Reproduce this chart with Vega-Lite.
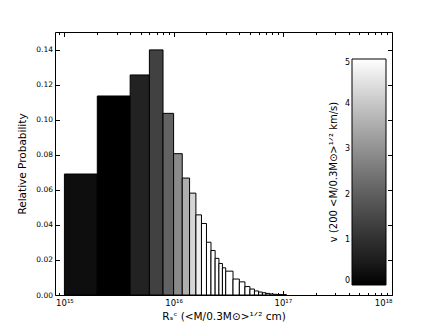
{
  "$schema": "https://vega.github.io/schema/vega-lite/v6.json",
  "width": 337,
  "height": 263,
  "autosize": "none",
  "padding": {"left": 55, "top": 32, "right": 44, "bottom": 34},
  "background": "white",
  "data": {
    "values": [
      {"x0": 1e15, "x1": 2e15, "p": 0.069, "v": 0.2},
      {"x0": 2e15, "x1": 4e15, "p": 0.1135, "v": 0},
      {"x0": 4e15, "x1": 6e15, "p": 0.1255, "v": 0.67},
      {"x0": 6e15, "x1": 8e15, "p": 0.1398, "v": 1.37},
      {"x0": 8e15, "x1": 1e16, "p": 0.1036, "v": 2.08},
      {"x0": 1e16, "x1": 1.2e16, "p": 0.0806, "v": 2.88},
      {"x0": 1.2e16, "x1": 1.4e16, "p": 0.0667, "v": 3.55},
      {"x0": 1.4e16, "x1": 1.6e16, "p": 0.0581, "v": 4.27},
      {"x0": 1.6e16, "x1": 1.8e16, "p": 0.0457, "v": 4.7},
      {"x0": 1.8e16, "x1": 2.0e16, "p": 0.0408, "v": 5},
      {"x0": 2.0e16, "x1": 2.2e16, "p": 0.0301, "v": 5},
      {"x0": 2.2e16, "x1": 2.4e16, "p": 0.0254, "v": 5},
      {"x0": 2.4e16, "x1": 2.6e16, "p": 0.0209, "v": 5},
      {"x0": 2.6e16, "x1": 2.8e16, "p": 0.018, "v": 5},
      {"x0": 2.8e16, "x1": 3.0e16, "p": 0.0155, "v": 5},
      {"x0": 3.0e16, "x1": 3.5e16, "p": 0.0136, "v": 5},
      {"x0": 3.5e16, "x1": 4.0e16, "p": 0.0091, "v": 5},
      {"x0": 4.0e16, "x1": 4.5e16, "p": 0.0075, "v": 5},
      {"x0": 4.5e16, "x1": 5.0e16, "p": 0.0048, "v": 5},
      {"x0": 5.0e16, "x1": 5.5e16, "p": 0.0034, "v": 5},
      {"x0": 5.5e16, "x1": 6.0e16, "p": 0.0023, "v": 5},
      {"x0": 6.0e16, "x1": 6.5e16, "p": 0.0017, "v": 5},
      {"x0": 6.5e16, "x1": 7.0e16, "p": 0.0013, "v": 5},
      {"x0": 7.0e16, "x1": 7.6e16, "p": 0.0009, "v": 5},
      {"x0": 7.6e16, "x1": 8.2e16, "p": 0.0006, "v": 5},
      {"x0": 8.2e16, "x1": 8.9e16, "p": 0.0004, "v": 5},
      {"x0": 8.9e16, "x1": 9.7e16, "p": 0.0003, "v": 5},
      {"x0": 9.7e16, "x1": 1.08e17, "p": 0.0002, "v": 5}
    ]
  },
  "resolve": {"axis": {"x": "independent", "y": "independent"}},
  "layer": [
    {
      "mark": {"type": "bar", "stroke": "black", "strokeWidth": 1},
      "encoding": {
        "x": {
          "field": "x0", "type": "quantitative",
          "scale": {"type": "log", "domain": [8.2e14, 1e18], "nice": false},
          "axis": {
            "orient": "bottom",
            "values": [1e15, 1e16, 1e17, 1e18],
            "labelExpr": "datum.value < 5e15 ? '10¹⁵' : datum.value < 5e16 ? '10¹⁶' : datum.value < 5e17 ? '10¹⁷' : '10¹⁸'",
            "tickSize": -4.5,
            "labelPadding": 8,
            "labelFontSize": 8.5,
            "title": "Rₛᶜ (<M/0.3M⊙>¹ᐟ² cm)",
            "titlePadding": 4
          }
        },
        "x2": {"field": "x1"},
        "y": {
          "field": "p", "type": "quantitative",
          "scale": {"domain": [0, 0.15], "nice": false},
          "axis": {
            "orient": "left",
            "values": [0, 0.02, 0.04, 0.06, 0.08, 0.1, 0.12, 0.14],
            "format": ".2f",
            "tickSize": -4.5,
            "labelPadding": 7,
            "title": "Relative Probability",
            "titlePadding": 8
          }
        },
        "y2": {"datum": 0},
        "color": {
          "field": "v", "type": "quantitative",
          "scale": {"domain": [0, 5], "range": ["#000000", "#ffffff"], "clamp": true},
          "legend": {
            "orient": "none",
            "legendX": 274,
            "legendY": 27,
            "direction": "vertical",
            "gradientLength": 226,
            "gradientThickness": 34,
            "gradientStrokeColor": "black",
            "gradientStrokeWidth": 1,
            "values": [0, 1, 2, 3, 4, 5],
            "labelAlign": "right",
            "labelOffset": -41,
            "labelFontSize": 8,
            "labelColor": "black",
            "title": "v (200 <M/0.3M⊙>¹ᐟ² km/s)",
            "titleOrient": "left",
            "titleAngle": 270,
            "titleAnchor": "middle",
            "titleFontSize": 10,
            "titleFontWeight": "normal",
            "titleColor": "black",
            "titlePadding": 12,
            "padding": 0
          }
        }
      }
    },
    {
      "mark": {"type": "point", "opacity": 0},
      "encoding": {
        "x": {
          "field": "x0", "type": "quantitative",
          "axis": {"orient": "top", "values": [1e15, 1e16, 1e17, 1e18], "labels": false, "tickSize": -4.5, "title": null}
        },
        "y": {
          "field": "p", "type": "quantitative",
          "axis": {"orient": "right", "values": [0, 0.02, 0.04, 0.06, 0.08, 0.1, 0.12, 0.14], "labels": false, "tickSize": -4.5, "title": null}
        }
      }
    },
    {
      "mark": {"type": "point", "opacity": 0},
      "encoding": {
        "x": {
          "field": "x0", "type": "quantitative",
          "axis": {"orient": "bottom", "values": [9e14, 2e15, 3e15, 4e15, 5e15, 6e15, 7e15, 8e15, 9e15, 2e16, 3e16, 4e16, 5e16, 6e16, 7e16, 8e16, 9e16, 2e17, 3e17, 4e17, 5e17, 6e17, 7e17, 8e17, 9e17], "labels": false, "tickSize": -2.5, "title": null}
        }
      }
    },
    {
      "mark": {"type": "point", "opacity": 0},
      "encoding": {
        "x": {
          "field": "x0", "type": "quantitative",
          "axis": {"orient": "top", "values": [9e14, 2e15, 3e15, 4e15, 5e15, 6e15, 7e15, 8e15, 9e15, 2e16, 3e16, 4e16, 5e16, 6e16, 7e16, 8e16, 9e16, 2e17, 3e17, 4e17, 5e17, 6e17, 7e17, 8e17, 9e17], "labels": false, "tickSize": -2.5, "title": null}
        }
      }
    }
  ],
  "config": {
    "font": "DejaVu Sans",
    "view": {"stroke": "black", "strokeWidth": 1},
    "axis": {
      "grid": false,
      "domain": false,
      "tickColor": "black",
      "tickWidth": 1,
      "labelColor": "black",
      "titleColor": "black",
      "labelFontSize": 7.5,
      "titleFontSize": 10.5,
      "titleFontWeight": "normal"
    }
  }
}
